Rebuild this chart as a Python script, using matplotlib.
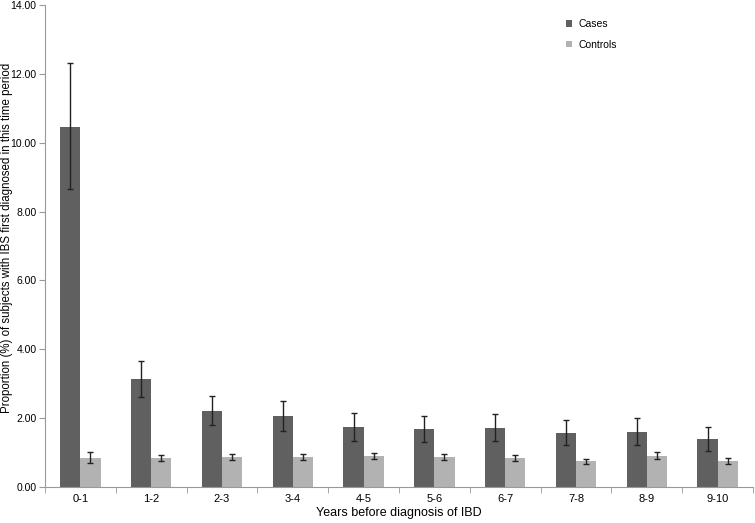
import numpy as np
import matplotlib
matplotlib.use('Agg')
import matplotlib.pyplot as plt

plt.rcParams['font.family'] = ['Liberation Sans', 'DejaVu Sans']

periods = ['0-1', '1-2', '2-3', '3-4', '4-5', '5-6', '6-7', '7-8', '8-9', '9-10']

cases = [10.47, 3.13, 2.22, 2.06, 1.74, 1.68, 1.71, 1.58, 1.60, 1.40]
cases_lo = [8.66, 2.62, 1.79, 1.64, 1.35, 1.30, 1.34, 1.21, 1.22, 1.05]
cases_hi = [12.31, 3.65, 2.65, 2.49, 2.14, 2.06, 2.11, 1.95, 1.99, 1.75]

controls = [0.84, 0.84, 0.86, 0.86, 0.89, 0.87, 0.83, 0.75, 0.90, 0.76]
controls_lo = [0.71, 0.76, 0.78, 0.78, 0.81, 0.78, 0.76, 0.68, 0.81, 0.68]
controls_hi = [1.03, 0.93, 0.95, 0.97, 0.98, 0.97, 0.93, 0.82, 1.01, 0.83]

x = np.arange(len(periods))
w = 0.285

fig = plt.figure(figsize=(7.55, 5.23), dpi=100)
ax = fig.add_axes([45/755, 1 - 487/523, 708/755, 482/523])

cases = np.array(cases)
controls = np.array(controls)
err_cases = [cases - np.array(cases_lo), np.array(cases_hi) - cases]
err_controls = [controls - np.array(controls_lo), np.array(controls_hi) - controls]

ax.bar(x - w/2, cases, w, color='#606060', label='Cases')
ax.bar(x + w/2, controls, w, color='#b2b2b2', label='Controls')
ax.errorbar(x - w/2, cases, yerr=err_cases, fmt='none', ecolor='#222222',
            elinewidth=1, capsize=2.5, capthick=1)
ax.errorbar(x + w/2, controls, yerr=err_controls, fmt='none', ecolor='#222222',
            elinewidth=1, capsize=2.5, capthick=1)

ax.set_xlim(-0.5, len(periods) - 0.5)
ax.set_ylim(0, 14)
ax.set_yticks(np.arange(0, 14.01, 2))
ax.set_yticklabels(['%.2f' % v for v in np.arange(0, 14.01, 2)], fontsize=7.5)
ax.set_xticks(x)
ax.set_xticklabels(periods, fontsize=8)
ax.set_xticks(np.arange(-0.5, len(periods)), minor=True)
ax.tick_params(axis='x', which='major', length=0, pad=5)
ax.tick_params(axis='x', which='minor', length=4, color='#999999')
ax.tick_params(axis='y', length=4, color='#999999', pad=2)

for s in ['top', 'right']:
    ax.spines[s].set_visible(False)
for s in ['left', 'bottom']:
    ax.spines[s].set_color('#999999')

ax.set_xlabel('Years before diagnosis of IBD', fontsize=9, labelpad=2)
ax.set_ylabel('Proportion (%) of subjects with IBS first diagnosed in this time period',
              fontsize=8.3)
ax.yaxis.set_label_coords(-0.0455, 0.517)

ax.legend(loc='upper left', bbox_to_anchor=(0.722, 0.99), frameon=False, fontsize=7.5,
          handlelength=0.6, handleheight=0.6, labelspacing=1.0, handletextpad=0.6)

fig.savefig('out.png', dpi=100)
